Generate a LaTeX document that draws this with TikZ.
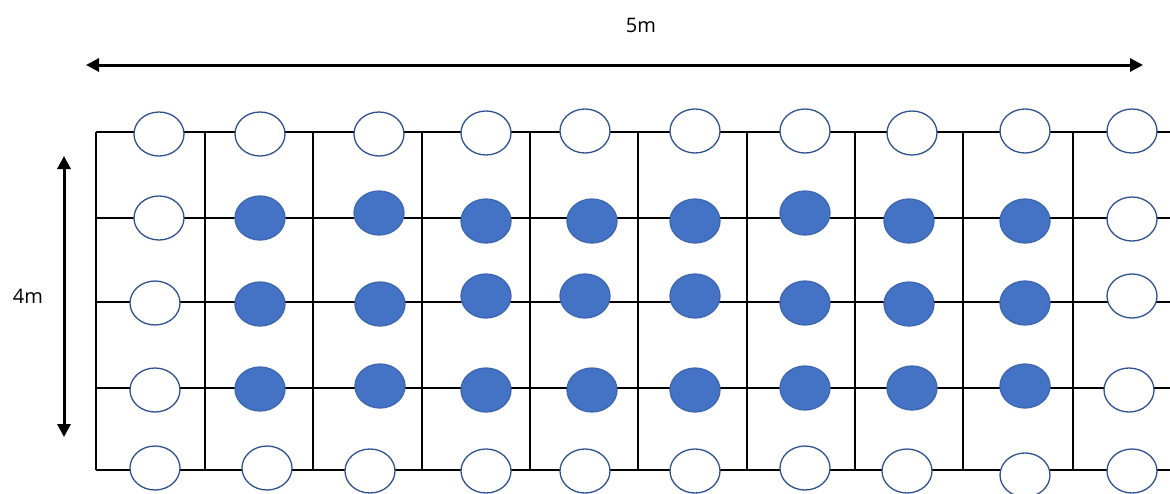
\documentclass[tikz,border=0pt]{standalone}
\usepackage{fontspec}
\setmainfont{Open Sans}
\usetikzlibrary{arrows.meta, shapes.geometric}
\definecolor{holeline}{HTML}{2F528F}
\definecolor{holefill}{HTML}{4472C4}
\tikzset{
  hole/.style={ellipse, draw=holeline, line width=1.3pt, fill=white,
    minimum width=50pt, minimum height=44pt, inner sep=0pt},
  plant/.style={hole, draw=holefill!90!black, fill=holefill},
  gridline/.style={line width=1.2pt},
  dimline/.style={<->, line width=3pt},
  dimlabel/.style={font=\fontsize{20}{24}\selectfont, inner sep=0pt}
}
\begin{document}
\begin{tikzpicture}[x=1pt, y=-1pt, >={Triangle[length=13pt,width=13pt]}]
\useasboundingbox (0,0) rectangle (1170,493);
% grid
\foreach \y in {132,218,302,388,470}
  \draw[gridline](96,\y)--(1170,\y);
\foreach \x in {96,205,313,422,530,638,747,855,963,1073}
  \draw[gridline](\x,132)--(\x,470);

% rows of holes
\foreach \x/\y/\s [count=\i] in {159/134/hole,260/134/hole,379/134/hole,486/133/hole,585/131/hole,
    695/131/hole,805/131/hole,912/133/hole,1025/131/hole,1132/131/hole}
  \node[\s] (r1-\i) at (\x,\y) {};
\foreach \x/\y/\s [count=\i] in {159/218/hole,260/218/plant,379/213/plant,486/221/plant,592/221/plant,
    695/221/plant,805/213/plant,909/221/plant,1025/221/plant,1132/219/hole}
  \node[\s] (r2-\i) at (\x,\y) {};
\foreach \x/\y/\s [count=\i] in {155/303/hole,260/304/plant,380/304/plant,486/296/plant,585/296/plant,
    695/296/plant,805/303/plant,909/304/plant,1025/303/plant,1132/296/hole}
  \node[\s] (r3-\i) at (\x,\y) {};
\foreach \x/\y/\s [count=\i] in {155/390/hole,260/389/plant,380/386/plant,486/390/plant,592/390/plant,
    695/390/plant,805/388/plant,912/388/plant,1025/386/plant,1129/390/hole}
  \node[\s] (r4-\i) at (\x,\y) {};
\foreach \x/\y/\s [count=\i] in {155/468/hole,267/468/hole,370/471/hole,486/471/hole,585/471/hole,
    695/471/hole,805/468/hole,907/471/hole,1025/475/hole,1132/471/hole}
  \node[\s] (r5-\i) at (\x,\y) {};

% dimensions
\coordinate (wl) at (86,65);
\coordinate (wr) at (1143,65);
\draw[dimline](wl)--(wr);
\node[dimlabel] (wlabel) at (641,25) {5m};
\coordinate (ht) at (64,156);
\coordinate (hb) at (64,437);
\draw[dimline](ht)--(hb);
\node[dimlabel] (hlabel) at (28,296) {4m};
\end{tikzpicture}
\end{document}
